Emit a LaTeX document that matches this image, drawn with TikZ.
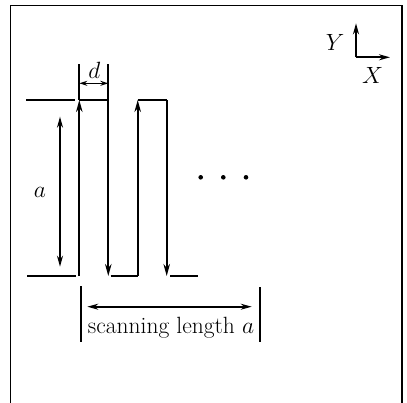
\RequirePackage{fix-cm}
\documentclass[tikz,border=0pt]{standalone}
\usepackage{amsmath,amssymb}
\usepackage{tikz}
\usetikzlibrary{arrows.meta,positioning}

\tikzset{
  frame/.style={line width=1.5pt},
  scan/.style={line width=1.8pt},
  thin/.style={line width=1.2pt},
  dimarrow/.style={line width=1.6pt,{Stealth[length=11pt,width=6pt]}-{Stealth[length=11pt,width=6pt]}},
  scanarrow/.style={scan,-{Stealth[length=12pt,width=6.5pt]}},
  lbl/.style={inner sep=0pt,font=\fontsize{23.5}{27}\selectfont},
}

\begin{document}
\begin{tikzpicture}[x=1pt,y=-1pt]
  \useasboundingbox (0,0) rectangle (407,402);
  % Define frame
  \draw[frame] (10.3,410) -- (10.3,5.5) -- (402,5.5) -- (402,410);

  % Define corners of the scan path
  \foreach \i/\x in {0/79.3,1/108.3,2/137.7,3/166.7} {
    \coordinate (t\i) at (\x,100);
    \coordinate (b\i) at (\x,276);
  }
  \coordinate (b1r) at (110.7,276);
  \coordinate (b3r) at (170,276);
  \coordinate (e3) at (197.7,276);

  % Scan path
  \draw[scanarrow] (b0) -- (t0);
  \draw[thin] (t0) -- (t1);
  \draw[scanarrow] (t1) -- (b1);
  \draw[scan] (b1r) -- (b2);
  \draw[scanarrow] (b2) -- (t2);
  \draw[thin] (t2) -- (t3);
  \draw[scanarrow] (t3) -- (b3);
  \draw[scan] (b3r) -- (e3);

  % Reference lines on the left
  \coordinate (rt0) at (26,100);
  \coordinate (rt1) at (75,100);
  \coordinate (rb0) at (27,276);
  \coordinate (rb1) at (76,276);
  \draw[scan] (rt0) -- (rt1);
  \draw[scan] (rb0) -- (rb1);

  % Dimension a
  \coordinate (a0) at (60,116.7);
  \coordinate (a1) at (60,266.7);
  \draw[dimarrow] (a0) -- (a1);
  \node[lbl] (la) at (40,192.7) {$a$};

  % Dimension d
  \coordinate (d0) at (79.3,64);
  \coordinate (d1) at (108.3,64);
  \draw[scan] (d0) -- (t0);
  \draw[scan] (d1) -- (t1);
  \coordinate (dl) at (79.3,83.3);
  \coordinate (dr) at (108.3,83.3);
  \draw[line width=1.5pt,{Stealth[length=8pt,width=5pt]}-{Stealth[length=8pt,width=5pt]}] (dl) -- (dr);
  \node[lbl] (ld) at (94.3,70) {$d$};

  % Continuation dots
  \foreach \x in {200.7,223.3,246} {
    \fill (\x,177.3) circle (2.3pt);
  }

  % Scanning length
  \coordinate (s0t) at (81,286);
  \coordinate (s0b) at (81,341.7);
  \coordinate (s1t) at (260,287);
  \coordinate (s1b) at (260,341.7);
  \draw[scan] (s0t) -- (s0b);
  \draw[scan] (s1t) -- (s1b);
  \coordinate (sl) at (87.3,306.7);
  \coordinate (sr) at (251.7,306.7);
  \draw[dimarrow] (sl) -- (sr);
  \node[lbl] (ls) at (171,328) {scanning length $a$};

  % Axes
  \coordinate (o) at (356,57.3);
  \coordinate (oy) at (356,23.3);
  \coordinate (ox) at (390,57.3);
  \draw[scan,-{Stealth[length=11pt,width=6pt]}] (o) -- (oy);
  \draw[scan,-{Stealth[length=11pt,width=6pt]}] (o) -- (ox);
  \node[lbl] (ly) at (335,42.3) {$Y$};
  \node[lbl] (lx) at (372.7,75) {$X$};
\end{tikzpicture}
\end{document}
